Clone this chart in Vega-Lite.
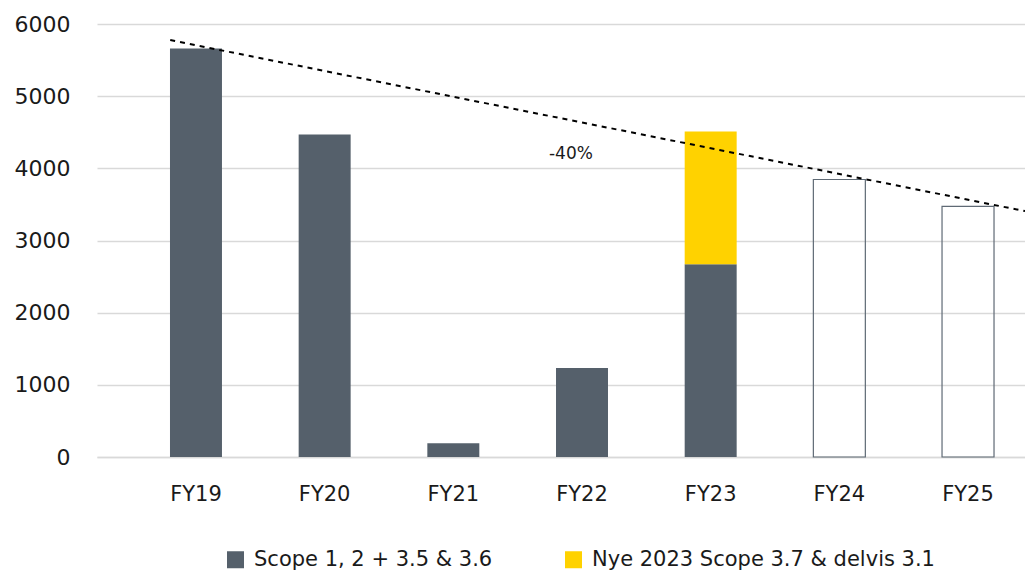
{
  "$schema": "https://vega.github.io/schema/vega-lite/v6.json",
  "width": 928,
  "height": 433,
  "autosize": {"type": "none"},
  "padding": {"left": 97, "top": 24, "right": 0, "bottom": 115},
  "config": {
    "view": {"stroke": null},
    "font": "DejaVu Sans",
    "axis": {"labelFont": "DejaVu Sans", "labelColor": "#1a1a1a"},
    "legend": {"labelFont": "DejaVu Sans"}
  },
  "datasets": {
    "actual": [
      {"year": "FY19", "series": "Scope 1, 2 + 3.5 & 3.6", "value": 5660},
      {"year": "FY20", "series": "Scope 1, 2 + 3.5 & 3.6", "value": 4470},
      {"year": "FY21", "series": "Scope 1, 2 + 3.5 & 3.6", "value": 192},
      {"year": "FY22", "series": "Scope 1, 2 + 3.5 & 3.6", "value": 1232},
      {"year": "FY23", "series": "Scope 1, 2 + 3.5 & 3.6", "value": 2670},
      {"year": "FY23", "series": "Nye 2023 Scope 3.7 & delvis 3.1", "value": 1840}
    ],
    "target": [
      {"year": "FY24", "target": 3845},
      {"year": "FY25", "target": 3472}
    ],
    "trend": [
      {"pos": -0.2, "value": 5777},
      {"pos": 6.443, "value": 3407}
    ],
    "note": [
      {"pos": 2.914, "value": 4205, "label": "-40%"}
    ]
  },
  "layer": [
    {
      "layer": [
        {
          "data": {"name": "actual"},
          "mark": {"type": "bar"},
          "encoding": {
            "x": {
              "field": "year", "type": "nominal",
              "scale": {"domain": ["FY19", "FY20", "FY21", "FY22", "FY23", "FY24", "FY25"], "paddingInner": 0.596, "paddingOuter": 0.404, "align": 0.702},
              "axis": {"title": null, "labelAngle": 0, "labelFontSize": 21, "labelPadding": 26, "ticks": false, "domainColor": "#d9d9d9", "domainWidth": 1.5, "labelColor": "#1a1a1a"}
            },
            "y": {
              "field": "value", "type": "quantitative", "stack": "zero",
              "scale": {"domain": [0, 6000], "nice": false},
              "axis": {"title": null, "values": [0, 1000, 2000, 3000, 4000, 5000, 6000], "format": "d", "labelFontSize": 22, "labelPadding": 27, "ticks": false, "domain": false, "gridColor": "#d9d9d9", "gridWidth": 1.5, "labelColor": "#1a1a1a"}
            },
            "color": {
              "field": "series", "type": "nominal",
              "scale": {"domain": ["Scope 1, 2 + 3.5 & 3.6", "Nye 2023 Scope 3.7 & delvis 3.1"], "range": ["#55606b", "#ffd200"]},
              "legend": {
                "title": null, "orient": "none", "direction": "horizontal",
                "legendX": 128, "legendY": 525,
                "symbolType": "square", "symbolSize": 289, "symbolStrokeWidth": 0,
                "labelFontSize": 21, "labelColor": "#1a1a1a", "labelOffset": 8,
                "columnPadding": 70, "labelLimit": 500
              }
            },
            "order": {"field": "series", "sort": "descending"}
          }
        },
        {
          "data": {"name": "target"},
          "mark": {"type": "bar", "fill": "transparent", "stroke": "#5f6a75", "strokeWidth": 1.2},
          "encoding": {
            "x": {
              "field": "year", "type": "nominal",
              "scale": {"domain": ["FY19", "FY20", "FY21", "FY22", "FY23", "FY24", "FY25"], "paddingInner": 0.596, "paddingOuter": 0.404, "align": 0.702}
            },
            "y": {"field": "target", "type": "quantitative"}
          }
        }
      ]
    },
    {
      "layer": [
        {
          "data": {"name": "trend"},
          "mark": {"type": "line", "color": "#000000", "strokeWidth": 2, "strokeDash": [5, 5]},
          "encoding": {
            "x": {"field": "pos", "type": "quantitative", "scale": {"domain": [-0.769, 6.443], "nice": false, "zero": false}, "axis": null},
            "y": {"field": "value", "type": "quantitative"}
          }
        },
        {
          "data": {"name": "note"},
          "mark": {"type": "text", "fontSize": 17, "color": "#1a1a1a", "font": "DejaVu Sans"},
          "encoding": {
            "x": {"field": "pos", "type": "quantitative", "scale": {"domain": [-0.769, 6.443], "nice": false, "zero": false}, "axis": null},
            "y": {"field": "value", "type": "quantitative"},
            "text": {"field": "label"}
          }
        }
      ]
    }
  ],
  "resolve": {"scale": {"x": "independent"}}
}
